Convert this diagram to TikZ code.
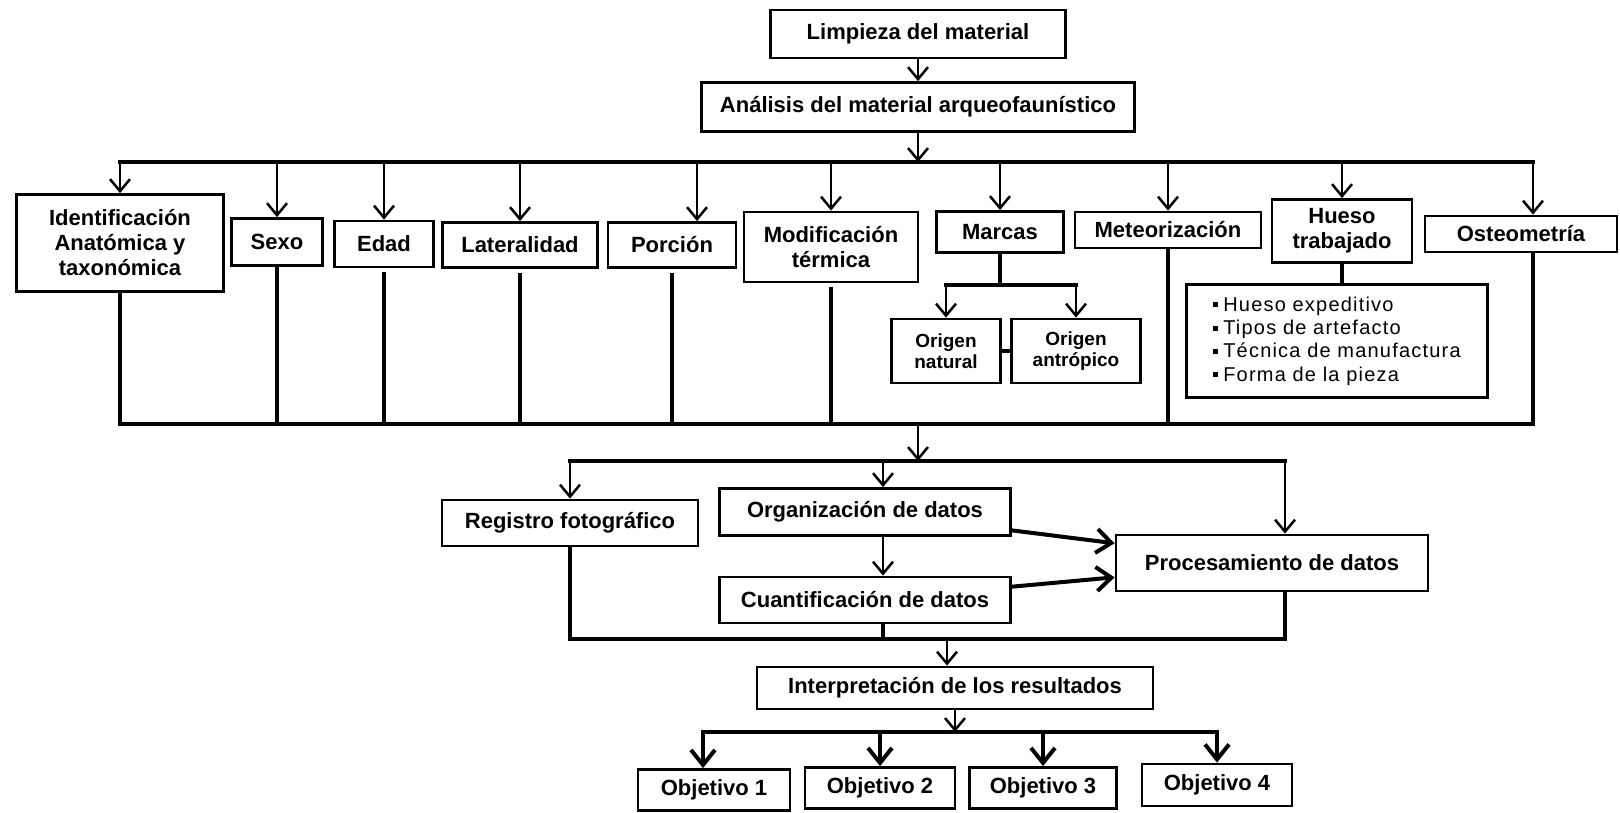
\documentclass[tikz,border=0pt]{standalone}
\usepackage{fontspec}
\setmainfont{Liberation Sans}
\usetikzlibrary{arrows.meta}

\newcommand{\lbul}{\rule[4pt]{5pt}{5pt}\hspace{5pt}}

\begin{document}
\begin{tikzpicture}[
	x=1pt, y=-1pt,
	block/.style={
		draw,
		line width=2.8pt,
		align=center,
		inner sep=2pt,
		font=\bfseries\fontsize{22}{25}\selectfont,
	},
	origin/.style={font=\bfseries\fontsize{19}{21}\selectfont},
	items/.style={
		align=left,
		font=\mdseries\fontsize{20}{23.3}\selectfont\addfontfeatures{LetterSpace=6},
	},
	arr/.style={line width=2.5pt, -{Straight Barb[length=12pt,width=20pt]}},
	bigarr/.style={line width=4pt, -{Straight Barb[length=15pt,width=24pt]}},
	bus/.style={line width=4pt, line cap=rect},
	gap/.style={shorten <=6pt},
]

\useasboundingbox (0,0) rectangle (1620,812);

\node[block, minimum width=295, minimum height=48] (limp) at (918,34) {Limpieza del material};
\node[block, minimum width=433, minimum height=49] (anal) at (918,107) {Análisis del material arqueofaunístico};

\node[block, minimum width=207, minimum height=97] (ident) at (120,243) {Identificación\\Anatómica y\\taxonómica};
\node[block, minimum width=91, minimum height=47] (sexo) at (277,242) {Sexo};
\node[block, minimum width=99, minimum height=46] (edad) at (384,244) {Edad};
\node[block, minimum width=155, minimum height=45] (lat) at (520,245) {Lateralidad};
\node[block, minimum width=128, minimum height=45] (porc) at (672,245) {Porción};
\node[block, minimum width=174, minimum height=70] (modif) at (831,247) {Modificación\\térmica};
\node[block, minimum width=127, minimum height=41] (marcas) at (1000,232) {Marcas};
\node[block, minimum width=186, minimum height=36] (meteor) at (1168,230) {Meteorización};
\node[block, minimum width=140, minimum height=63] (hueso) at (1342,231) {Hueso\\trabajado};
\node[block, minimum width=192, minimum height=36] (osteo) at (1521,234) {Osteometría};

\node[block, origin, minimum width=109, minimum height=64] (onat) at (946,351) {Origen\\natural};
\node[block, origin, minimum width=129, minimum height=64] (oant) at (1076,351) {Origen\\antrópico};
\node[block, items, minimum width=301, minimum height=113] (hlist) at (1337,341)
	{\lbul Hueso expeditivo\\\lbul Tipos de artefacto\\\lbul Técnica de manufactura\\\lbul Forma de la pieza};

\node[block, minimum width=256, minimum height=46] (reg) at (570,523) {Registro fotográfico};
\node[block, minimum width=291, minimum height=47] (org) at (865,512) {Organización de datos};
\node[block, minimum width=291, minimum height=46] (cuant) at (865,600) {Cuantificación de datos};
\node[block, minimum width=312, minimum height=56] (proc) at (1272,563) {Procesamiento de datos};
\node[block, minimum width=396, minimum height=42] (interp) at (955,688) {Interpretación de los resultados};

\node[block, minimum width=152, minimum height=41] (obj1) at (714,790) {Objetivo 1};
\node[block, minimum width=150, minimum height=41] (obj2) at (880,788) {Objetivo 2};
\node[block, minimum width=147, minimum height=41] (obj3) at (1043,788) {Objetivo 3};
\node[block, minimum width=150, minimum height=42] (obj4) at (1217,785) {Objetivo 4};

\coordinate (bus1) at (0,162);
\coordinate (bus2) at (0,424);
\coordinate (bus3) at (0,461);
\coordinate (bus4) at (0,639);
\coordinate (bus5) at (0,732);
\coordinate (mbar) at (0,285);

\coordinate (porc-in) at ([xshift=25]porc.north);
\coordinate (osteo-in) at ([xshift=12]osteo.north);
\coordinate (osteo-out) at ([xshift=12]osteo.south);
\coordinate (org-in) at ([xshift=18]org.south);
\coordinate (cuant-in) at ([xshift=18]cuant.north);
\coordinate (proc-in) at ([xshift=13]proc.north);
\coordinate (interp-in) at ([xshift=-8]interp.north);
\coordinate (obj1-in) at ([xshift=-11]obj1.north);

\draw[arr] (limp) -- (anal);
\draw[arr] (anal) -- (anal |- bus1);

\draw[bus] (ident.north |- bus1) -- (osteo-in |- bus1);
\draw[arr] (ident.north |- bus1) -- (ident);
\draw[arr] (sexo.north |- bus1) -- (sexo);
\draw[arr] (edad.north |- bus1) -- (edad);
\draw[arr] (lat.north |- bus1) -- (lat);
\draw[arr] (porc-in |- bus1) -- (porc-in);
\draw[arr] (modif.north |- bus1) -- (modif);
\draw[arr] (marcas.north |- bus1) -- (marcas);
\draw[arr] (meteor.north |- bus1) -- (meteor);
\draw[arr] (hueso.north |- bus1) -- (hueso);
\draw[arr] (osteo-in |- bus1) -- (osteo-in);

\draw[bus] (marcas) -- (marcas |- mbar);
\draw[bus] (onat |- mbar) -- (oant |- mbar);
\draw[arr] (onat |- mbar) -- (onat);
\draw[arr] (oant |- mbar) -- (oant);
\draw[bus] (onat) -- (oant);
\draw[bus] (hueso) -- (hueso |- hlist.north);

\draw[bus] (ident) |- (osteo-out |- bus2) -- (osteo-out);
\draw[bus] (sexo) -- (sexo |- bus2);
\draw[bus, gap] (edad.south) -- (edad |- bus2);
\draw[bus, gap] (lat.south) -- (lat |- bus2);
\draw[bus, gap] (porc.south) -- (porc |- bus2);
\draw[bus, gap] (modif.south) -- (modif |- bus2);
\draw[bus] (meteor) -- (meteor |- bus2);

\draw[arr] (anal |- bus2) -- (anal |- bus3);
\draw[bus] (reg |- bus3) -- (proc-in |- bus3);
\draw[arr] (reg |- bus3) -- (reg);
\draw[arr] (org-in |- bus3) -- (org-in |- org.north);
\draw[arr] (proc-in |- bus3) -- (proc-in);
\draw[arr] (org-in) -- (cuant-in);
\draw[bigarr] (org) -- (proc);
\draw[bigarr] (cuant) -- (proc);

\draw[bus] (reg) |- (proc-in |- bus4) -- (proc-in |- proc.south);
\draw[bus] (org-in |- cuant.south) -- (org-in |- bus4);
\draw[arr] (interp-in |- bus4) -- (interp-in);
\draw[arr] (interp) -- (interp |- bus5);

\draw[bus] (obj1-in |- bus5) -- (obj4 |- bus5);
\draw[bigarr] (obj1-in |- bus5) -- (obj1-in);
\draw[bigarr] (obj2 |- bus5) -- (obj2);
\draw[bigarr] (obj3 |- bus5) -- (obj3);
\draw[bigarr] (obj4 |- bus5) -- (obj4);

\end{tikzpicture}
\end{document}
